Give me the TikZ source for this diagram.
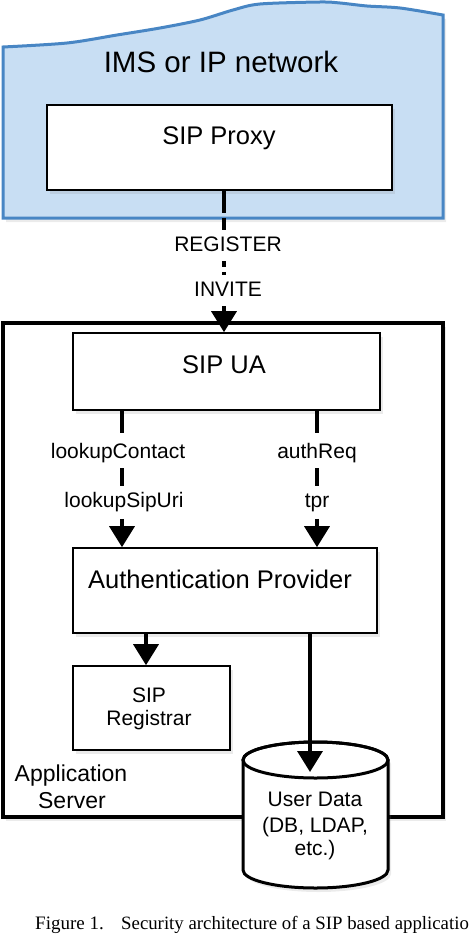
\documentclass[tikz,border=0pt]{standalone}
\usepackage{fontspec}
\setmainfont{Liberation Sans}
\newfontfamily\capfont{Liberation Serif}
\usetikzlibrary{arrows.meta,shadows}
\definecolor{netfill}{RGB}{200,222,243}
\definecolor{netdraw}{RGB}{72,134,196}
\begin{document}
\begin{tikzpicture}[x=1pt,y=-1pt,
 shad/.style={drop shadow={opacity=0.16, shadow xshift=3pt, shadow yshift=-4pt}},
 box/.style={draw=black, line width=1.6pt, fill=white, inner sep=0pt, shad},
 title/.style={font=\fontsize{25.5}{28}\selectfont, inner sep=0pt, anchor=base},
 lbl/.style={font=\fontsize{21}{24}\selectfont, fill=white, inner xsep=2pt, inner ysep=6pt, text height=15pt, text depth=4pt, anchor=base},
 txt/.style={font=\fontsize{21}{25}\selectfont, inner sep=0pt, anchor=base},
 conn/.style={line width=3.5pt, dash pattern=on 22pt off 5pt, -{Triangle[width=25pt,length=21pt,sep=0pt]}},
 solidconn/.style={line width=3.5pt, -{Triangle[width=25pt,length=21pt]}},
]
\useasboundingbox (0,0) rectangle (474,934);

% network cloud
\path[fill=netfill, draw=netdraw, line width=3pt, shad]
  (3,218) -- plot[smooth] coordinates {(3,47) (67,43) (117,35) (160,28) (200,20) (233,10) (260,4) (320,2) (340,3) (367,6) (400,8) (443,15)} -- (443,218) -- cycle;
\node[title, font=\fontsize{29.5}{32}\selectfont] (nettitle) at (221,73) {IMS or IP network};

% application server
\node[draw=black, line width=3.5pt, fill=white, inner sep=0pt, shad, minimum width=440pt, minimum height=494pt] (as) at (223,570) {};

% boxes
\node[box, minimum width=345pt, minimum height=85pt] (proxy) at (219.5,147.5) {};
\node[title] (proxyt) at (219,144) {SIP Proxy};
\node[box, minimum width=307pt, minimum height=77pt] (sipua) at (226.5,371.5) {};
\node[title] (sipuat) at (224,373) {SIP UA};
\node[box, minimum width=304pt, minimum height=85pt] (auth) at (225,590.5) {};
\node[title] (autht) at (220,588) {Authentication Provider};
\node[box, minimum width=157pt, minimum height=84pt] (reg) at (151.5,708) {};
\node[txt] (regt1) at (149,702) {SIP};
\node[txt] (regt2) at (149,725) {Registrar};

\node[txt, font=\fontsize{23}{26}\selectfont] (ast1) at (71,781) {Application};
\node[txt, font=\fontsize{23}{26}\selectfont] (ast2) at (72,808) {Server};

% user data cylinder
\path[fill=white, draw=black, line width=3pt, shad]
  (243,760) -- (243,870) arc[start angle=180, end angle=0, x radius=72.5, y radius=18]
  -- (388,760) arc[start angle=0, end angle=-180, x radius=72.5, y radius=18] -- cycle;
\draw[line width=3pt] (315.5,760) ellipse [x radius=72.5, y radius=18];
\coordinate (udtop) at (310,772);
\node[txt] (udt1) at (315,806) {User Data};
\node[txt] (udt2) at (315,832) {(DB, LDAP,};
\node[txt] (udt3) at (315,855) {etc.)};

% columns
\coordinate (c0) at (224,0);
\coordinate (c1) at (122,0);
\coordinate (c2) at (317,0);
\coordinate (c3) at (146,0);
\coordinate (c4) at (310,0);

% connectors
\draw[conn] (proxy.south -| c0) -- (sipua.north -| c0);
\draw[conn] (sipua.south -| c1) -- (auth.north -| c1);
\draw[conn] (sipua.south -| c2) -- (auth.north -| c2);
\draw[solidconn] (auth.south -| c3) -- (reg.north -| c3);
\draw[solidconn] (auth.south -| c4) -- (udtop);

% labels
\node[lbl, minimum width=153pt] (lreg) at (228,251) {REGISTER};
\node[lbl] (linv) at (228,296) {INVITE};
\node[lbl] (llc) at (118,458) {lookupContact};
\node[lbl] (lls) at (124,507) {lookupSipUri};
\node[lbl] (lar) at (317,458) {authReq};
\node[lbl] (ltpr) at (317,507) {tpr};

% caption
\node[font=\capfont\fontsize{19}{22}\selectfont, inner sep=0pt, anchor=base west] (capa) at (35,929) {Figure 1.};
\node[font=\capfont\fontsize{18.8}{22}\selectfont, inner sep=0pt, anchor=base west] (capb) at (121,929) {Security architecture of a SIP based applicatio};
\end{tikzpicture}
\end{document}
